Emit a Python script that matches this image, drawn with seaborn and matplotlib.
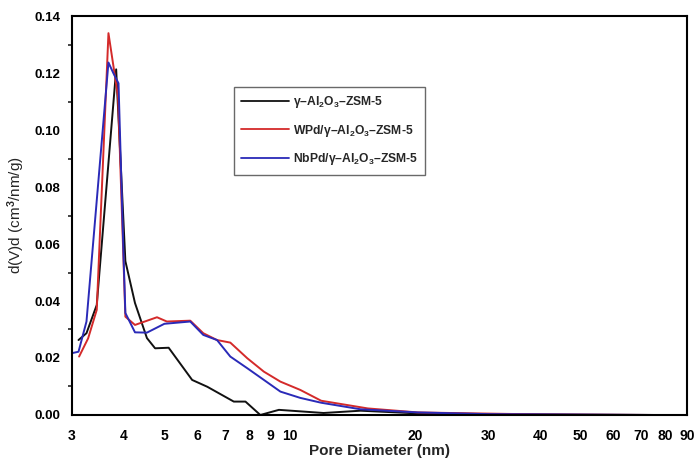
import numpy as np
import pandas as pd
import matplotlib
matplotlib.use("Agg")
import matplotlib.pyplot as plt
import seaborn as sns
from matplotlib.ticker import FixedLocator, NullLocator, MultipleLocator, FormatStrFormatter

# ---- data ----
labels = ["γ–Al$_2$O$_3$–ZSM-5", "WPd/γ–Al$_2$O$_3$–ZSM-5", "NbPd/γ–Al$_2$O$_3$–ZSM-5"]

x_black = [3.11, 3.25, 3.44, 3.83, 4.03, 4.25, 4.54, 4.75, 5.12, 5.83, 6.34, 7.34, 7.83,
           8.5, 9.42, 12.06, 14.8, 20, 30, 50, 75]
y_black = [0.0263, 0.0287, 0.0386, 0.1213, 0.0540, 0.0393, 0.0270, 0.0234, 0.0236, 0.0123,
           0.0099, 0.0047, 0.0047, 0.0, 0.0018, 0.0007, 0.0015, 0.0006, 0.0003, 0.0001, 0.0]

x_red = [3.12, 3.28, 3.44, 3.67, 3.87, 4.03, 4.25, 4.8, 5.07, 5.77, 6.2, 6.69, 7.2, 7.91,
         8.67, 9.5, 10.6, 11.9, 15.4, 20.3, 26.7, 40, 75]
y_red = [0.0205, 0.0269, 0.0369, 0.134, 0.1117, 0.0345, 0.0316, 0.0343, 0.0328, 0.0331,
         0.0287, 0.0263, 0.0254, 0.0199, 0.0152, 0.0117, 0.0088, 0.0050, 0.0023, 0.0009,
         0.0006, 0.0002, 0.0]

x_blue = [3.0, 3.11, 3.25, 3.67, 3.77, 3.88, 3.99, 4.03, 4.25, 4.54, 5.0, 5.77, 6.2, 6.69,
          7.2, 7.91, 8.67, 9.5, 10.6, 11.9, 14.8, 20.3, 30, 75]
y_blue = [0.0217, 0.0222, 0.0328, 0.1237, 0.1200, 0.1164, 0.0556, 0.0358, 0.0290, 0.0289,
          0.0320, 0.0328, 0.0281, 0.0263, 0.0205, 0.0164, 0.0123, 0.0082, 0.0060, 0.0043,
          0.0020, 0.0009, 0.0003, 0.0]

x_ticks = [3, 4, 5, 6, 7, 8, 9, 10, 20, 30, 40, 50, 60, 70, 80, 90]
y_ticks = [0.00, 0.02, 0.04, 0.06, 0.08, 0.10, 0.12, 0.14]

df = pd.concat([
    pd.DataFrame({"x": x_black, "y": y_black, "s": labels[0]}),
    pd.DataFrame({"x": x_red, "y": y_red, "s": labels[1]}),
    pd.DataFrame({"x": x_blue, "y": y_blue, "s": labels[2]}),
], ignore_index=True)

sns.set_style("white")
plt.rcParams["font.family"] = ["Liberation Sans", "DejaVu Sans"]
plt.rcParams["font.weight"] = "bold"
plt.rcParams["mathtext.fontset"] = "custom"
plt.rcParams["mathtext.rm"] = "Liberation Sans:bold"
plt.rcParams["mathtext.it"] = "Liberation Sans:bold"
plt.rcParams["mathtext.bf"] = "Liberation Sans:bold"

fig = plt.figure(figsize=(6.95, 4.59), dpi=100)
ax = fig.add_axes([0.1036, 0.0959, 0.8849, 0.8691])

palette = {labels[0]: "#111111", labels[1]: "#d42a2a", labels[2]: "#2a2ab8"}
sns.lineplot(data=df, x="x", y="y", hue="s", palette=palette, sort=False,
             estimator=None, linewidth=1.4, ax=ax)

ax.set_xscale("log")
ax.set_xlim(3, 90)
ax.set_ylim(0, 0.14)
ax.xaxis.set_major_locator(FixedLocator(x_ticks))
ax.xaxis.set_minor_locator(NullLocator())
ax.set_xticks(x_ticks)
ax.set_xticklabels([str(t) for t in x_ticks])
ax.yaxis.set_major_locator(FixedLocator(y_ticks))
ax.yaxis.set_minor_locator(MultipleLocator(0.01))
ax.yaxis.set_major_formatter(FormatStrFormatter("%.2f"))

ax.tick_params(axis="both", which="major", direction="out", length=5, width=1.3,
               colors="black")
ax.tick_params(axis="x", which="major", labelsize=10, pad=5)
ax.tick_params(axis="y", which="major", labelsize=9.5)
ax.tick_params(axis="y", which="minor", direction="out", length=3, width=1.2, left=True)
for lab in ax.get_xticklabels() + ax.get_yticklabels():
    lab.set_fontweight("bold")

for sp in ax.spines.values():
    sp.set_visible(True)
    sp.set_color("black")
    sp.set_linewidth(1.5)

ax.set_xlabel("Pore Diameter (nm)", fontsize=11, fontweight="bold")
ax.xaxis.set_label_coords(0.5, -0.072)
ax.set_ylabel("d(V)d (cm$^3$/nm/g)", fontsize=11, fontweight="normal")
ax.yaxis.set_label_coords(-0.073, 0.5)

leg = ax.legend(loc="upper left", bbox_to_anchor=(0.253, 0.838), frameon=True,
                fancybox=False, edgecolor="#444444", fontsize=8.7, handlelength=4.0,
                labelspacing=1.05, borderpad=0.6, handletextpad=0.3)
leg.get_frame().set_linewidth(1.0)
for t in leg.get_texts():
    t.set_fontweight("bold")
for l in leg.get_lines():
    l.set_linewidth(1.3)

fig.savefig("out.png", dpi=100, facecolor="white")
